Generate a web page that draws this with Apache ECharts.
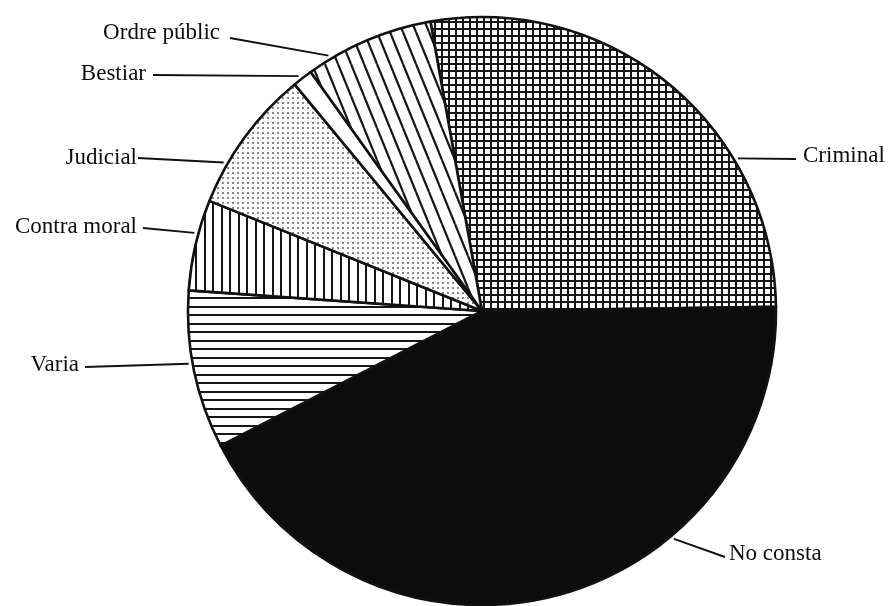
<!DOCTYPE html>
<html>
<head>
<meta charset="utf-8">
<script src="https://cdn.jsdelivr.net/npm/echarts@6/dist/echarts.min.js"></script>
<style>
html,body{margin:0;padding:0;background:#fff;}
#chart{width:889px;height:606px;}
</style>
</head>
<body>
<div id="chart"></div>
<script>
// ---- data ----
const categories = ['Criminal', 'No consta', 'Varia', 'Contra moral', 'Judicial', 'Bestiar', 'Ordre públic'];
const shares = [27.6, 42.7, 8.7, 5.0, 7.9, 1.1, 7.1];

// ---- layout (styling only) ----
const CX = 482, CY = 311, R = 294;
const START_ANGLE = 100.1;
// touch: angle (deg, clockwise from top) where the leader meets the circle
const labelSpots = [
  { touch: 59.2,  x: 803, y: 156, align: 'left',  gap: 7,  dy: 3 },
  { touch: 139.9, x: 729, y: 554, align: 'left',  gap: 4,  dy: 3 },
  { touch: 259.8, x: 79,  y: 365, align: 'right', gap: 6,  dy: 2 },
  { touch: 285.2, x: 137, y: 227, align: 'right', gap: 6,  dy: 1 },
  { touch: 299.9, x: 137, y: 158, align: 'right', gap: 1,  dy: 0 },
  { touch: 322.0, x: 146, y: 74,  align: 'right', gap: 7,  dy: 1 },
  { touch: 329.0, x: 220, y: 33,  align: 'right', gap: 10, dy: 5 }
];

function tile(w, h, draw) {
  const c = document.createElement('canvas');
  c.width = w; c.height = h;
  const g = c.getContext('2d');
  g.fillStyle = '#ffffff';
  g.fillRect(0, 0, w, h);
  draw(g, w, h);
  return { image: c, repeat: 'repeat' };
}
const INK = '#161616';
const patterns = [
  // Criminal: square grid
  tile(7, 7, g => { g.fillStyle = INK; g.fillRect(0, 0, 7, 2); g.fillRect(0, 0, 2, 7); }),
  // No consta: solid black
  '#0c0c0c',
  // Varia: horizontal lines
  tile(4, 17, g => { g.fillStyle = INK; g.fillRect(0, 0, 4, 2); g.fillRect(0, 8, 4, 2); }),
  // Contra moral: vertical lines
  tile(17, 4, g => { g.fillStyle = INK; g.fillRect(0, 0, 2, 4); g.fillRect(8, 0, 2, 4); }),
  // Judicial: fine dots
  tile(5, 5, g => { g.fillStyle = '#888888'; g.fillRect(2, 2, 2, 2); }),
  // Bestiar: blank
  '#ffffff',
  // Ordre public: steep diagonal lines
  tile(13, 32, (g, w, h) => {
    g.strokeStyle = INK; g.lineWidth = 2.2;
    g.beginPath();
    for (let k = -1; k <= 1; k++) { g.moveTo(k * w, 0); g.lineTo(k * w + w, h); }
    g.stroke();
  })
];

function onCircle(deg, r) {
  const a = deg * Math.PI / 180;
  return [CX + r * Math.sin(a), CY - r * Math.cos(a)];
}

const chart = echarts.init(document.getElementById('chart'));
chart.setOption({
  animation: false,
  backgroundColor: '#ffffff',
  series: [{
    type: 'pie',
    center: [CX, CY],
    radius: R,
    startAngle: START_ANGLE,
    clockwise: true,
    avoidLabelOverlap: false,
    silent: true,
    data: categories.map((name, i) => ({
      name: name,
      value: shares[i],
      itemStyle: { color: patterns[i] }
    })),
    itemStyle: { borderColor: '#111111', borderWidth: 2.6 },
    label: {
      show: true,
      position: 'outside',
      formatter: '{b}',
      color: '#0e0e0e',
      fontFamily: 'Liberation Serif',
      fontSize: 23
    },
    labelLine: {
      show: true,
      length: 20,
      length2: 20,
      lineStyle: { color: '#111111', width: 1.9 }
    },
    labelLayout: function (params) {
      const s = labelSpots[params.dataIndex];
      const start = onCircle(s.touch, R + 4);
      const endX = s.align === 'left' ? s.x - s.gap : s.x + s.gap;
      return {
        x: s.x,
        y: s.y,
        align: s.align,
        verticalAlign: 'middle',
        labelLinePoints: [start, [endX, s.y + s.dy]]
      };
    },
    emphasis: { disabled: true }
  }]
});
</script>
</body>
</html>
